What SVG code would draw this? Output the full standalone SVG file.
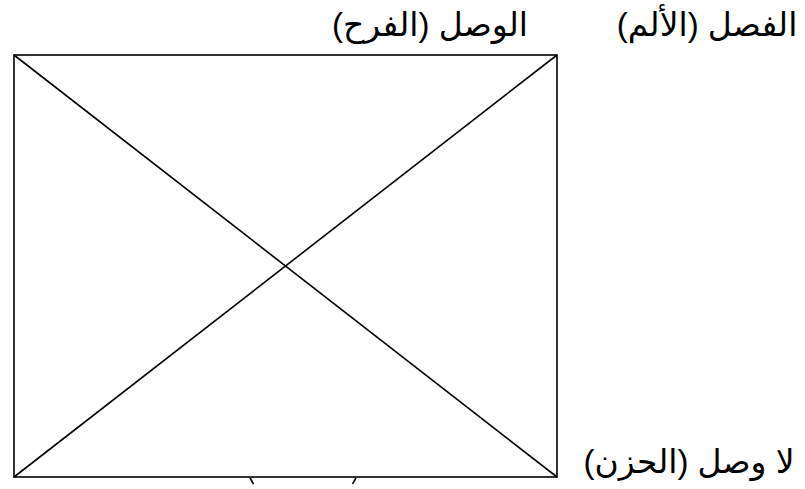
<svg xmlns="http://www.w3.org/2000/svg" width="805" height="489" viewBox="0 0 805 489">
<style>
.l{stroke:#000;stroke-width:1.6;fill:none}
.t{font-family:"Liberation Sans","DejaVu Sans",sans-serif;font-size:33px;fill:#000;direction:rtl;text-anchor:middle}
</style>
<rect width="805" height="489" fill="#fff"/>
<g id="frame">
<rect class="l" x="14" y="55" width="543" height="422"/>
</g>
<g id="connectors">
<line class="l" x1="14" y1="55" x2="557" y2="477"/>
<line class="l" x1="557" y1="55" x2="14" y2="477"/>
<path class="l" d="M250 478 L253.5 484"/>
<path class="l" d="M356 478 L352.5 484"/>
</g>
<g id="label-wasl"><text class="t" x="430" y="36">الوصل (الفرح)</text></g>
<g id="label-fasl"><text class="t" x="707" y="36">الفصل (الألم)</text></g>
<g id="label-lawasl"><text class="t" x="689" y="473">لا وصل (الحزن)</text></g>
</svg>
